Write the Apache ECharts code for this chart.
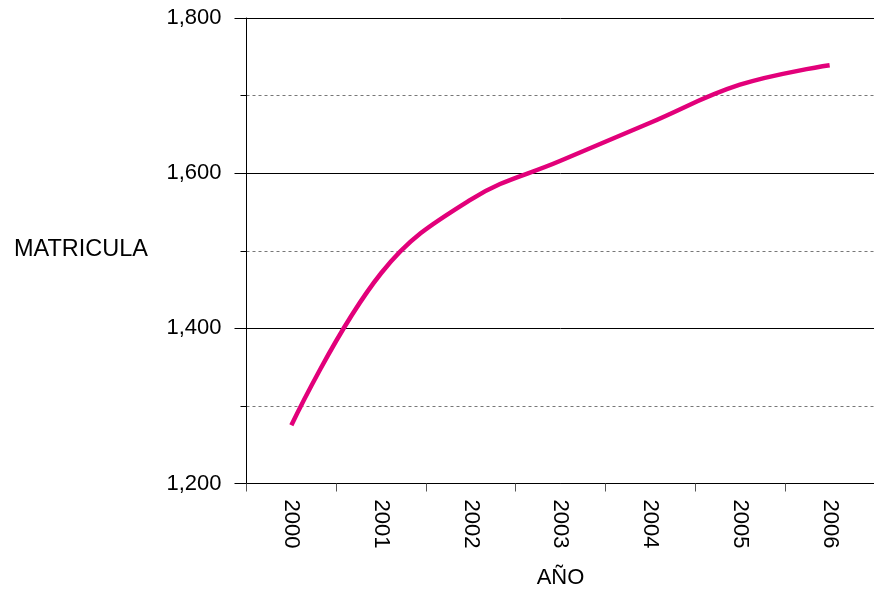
<!DOCTYPE html>
<html><head><meta charset="utf-8">
<script src="https://cdn.jsdelivr.net/npm/echarts@6/dist/echarts.min.js"></script>
<style>html,body{margin:0;padding:0;background:#fff}#c{width:874px;height:590px}</style>
</head><body><div id="c"></div>
<script>
const years = ['2000','2001','2002','2003','2004','2005','2006'];
const matricula = [1275, 1471, 1566, 1616, 1665, 1714, 1739];
const yTicks = {min: 1200, max: 1800, interval: 200};

const chart = echarts.init(document.getElementById('c'));
const font = 'Liberation Sans, Arial, sans-serif';
chart.setOption({
  animation: false,
  grid: {left: 246.5, top: 18, width: 628, height: 465.5, containLabel: false, outerBoundsMode: 'none'},
  xAxis: {
    type: 'category', data: years, boundaryGap: true,
    name: 'AÑO', nameLocation: 'middle', nameGap: 83, nameMoveOverlap: false,
    nameTextStyle: {color: '#000', fontSize: 22, fontFamily: font},
    axisLine: {lineStyle: {color: '#000', width: 1}},
    axisTick: {show: true, length: 8, alignWithLabel: false, lineStyle: {color: '#555'}},
    axisLabel: {rotate: -90, margin: 16, color: '#000', fontSize: 22, fontFamily: font},
    splitLine: {show: false}
  },
  yAxis: {
    type: 'value', min: yTicks.min, max: yTicks.max, interval: yTicks.interval,
    axisLine: {show: true, lineStyle: {color: '#000', width: 1}},
    axisTick: {show: true, length: 12, lineStyle: {color: '#000'}},
    minorTick: {show: true, splitNumber: 2, length: 6, lineStyle: {color: '#000'}},
    axisLabel: {margin: 25, color: '#000', fontSize: 22, fontFamily: font,
      formatter: v => v.toLocaleString('en-US')},
    splitLine: {show: true, lineStyle: {color: '#000', width: 1}},
    minorSplitLine: {show: true, lineStyle: {color: '#777', type: [3, 3], width: 1}}
  },
  graphic: [{type: 'text', left: 14, top: 238,
    style: {text: 'MATRICULA', fontSize: 23.5, fontFamily: font, fill: '#000'}}],
  series: [{
    type: 'line', data: matricula, smooth: 0.4, symbol: 'none',
    lineStyle: {color: '#e2007a', width: 4.5}
  }]
});
</script></body></html>
